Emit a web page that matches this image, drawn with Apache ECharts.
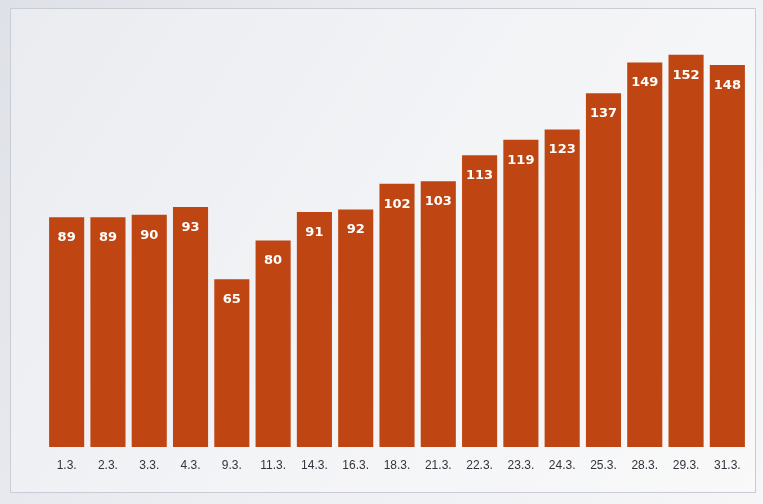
<!DOCTYPE html>
<html>
<head>
<meta charset="utf-8">
<script src="https://cdn.jsdelivr.net/npm/echarts@6/dist/echarts.min.js"></script>
<style>html,body{margin:0;padding:0;}#c{width:763px;height:504px;}</style>
</head>
<body>
<div id="c"></div>
<script>
const categories = ['1.3.', '2.3.', '3.3.', '4.3.', '9.3.', '11.3.', '14.3.', '16.3.', '18.3.', '21.3.', '22.3.', '23.3.', '24.3.', '25.3.', '28.3.', '29.3.', '31.3.'];
const values = [89, 89, 90, 93, 65, 80, 91, 92, 102, 103, 113, 119, 123, 137, 149, 152, 148];

const chart = echarts.init(document.getElementById('c'));
chart.setOption({
  backgroundColor: {
    type: 'linear', x: 0, y: 0, x2: 1, y2: 1,
    colorStops: [{offset: 0, color: '#dfe1e8'}, {offset: 0.5, color: '#eceef2'}, {offset: 1, color: '#f6f6f7'}]
  },
  graphic: [{
    type: 'rect', left: 10, top: 8, z: -1,
    shape: {width: 745, height: 484},
    style: {fill: 'rgba(255,255,255,0.35)', stroke: '#c9ccd4', lineWidth: 1}
  }],
  grid: {left: 46, right: 15, top: 34, bottom: 57},
  xAxis: {
    type: 'category', data: categories,
    axisLine: {show: false}, axisTick: {show: false},
    axisLabel: {color: '#33333d', fontSize: 12, margin: 13, fontFamily: 'Liberation Sans'}
  },
  yAxis: {type: 'value', min: 0, max: 160, show: false, splitLine: {show: false}},
  series: [{
    type: 'bar', data: values, barCategoryGap: '15%',
    itemStyle: {color: '#bf4512'},
    label: {show: true, position: 'insideTop', distance: 14, color: '#ffffff', fontWeight: 'bold', fontSize: 13, fontFamily: 'DejaVu Sans'}
  }]
});
</script>
</body>
</html>
